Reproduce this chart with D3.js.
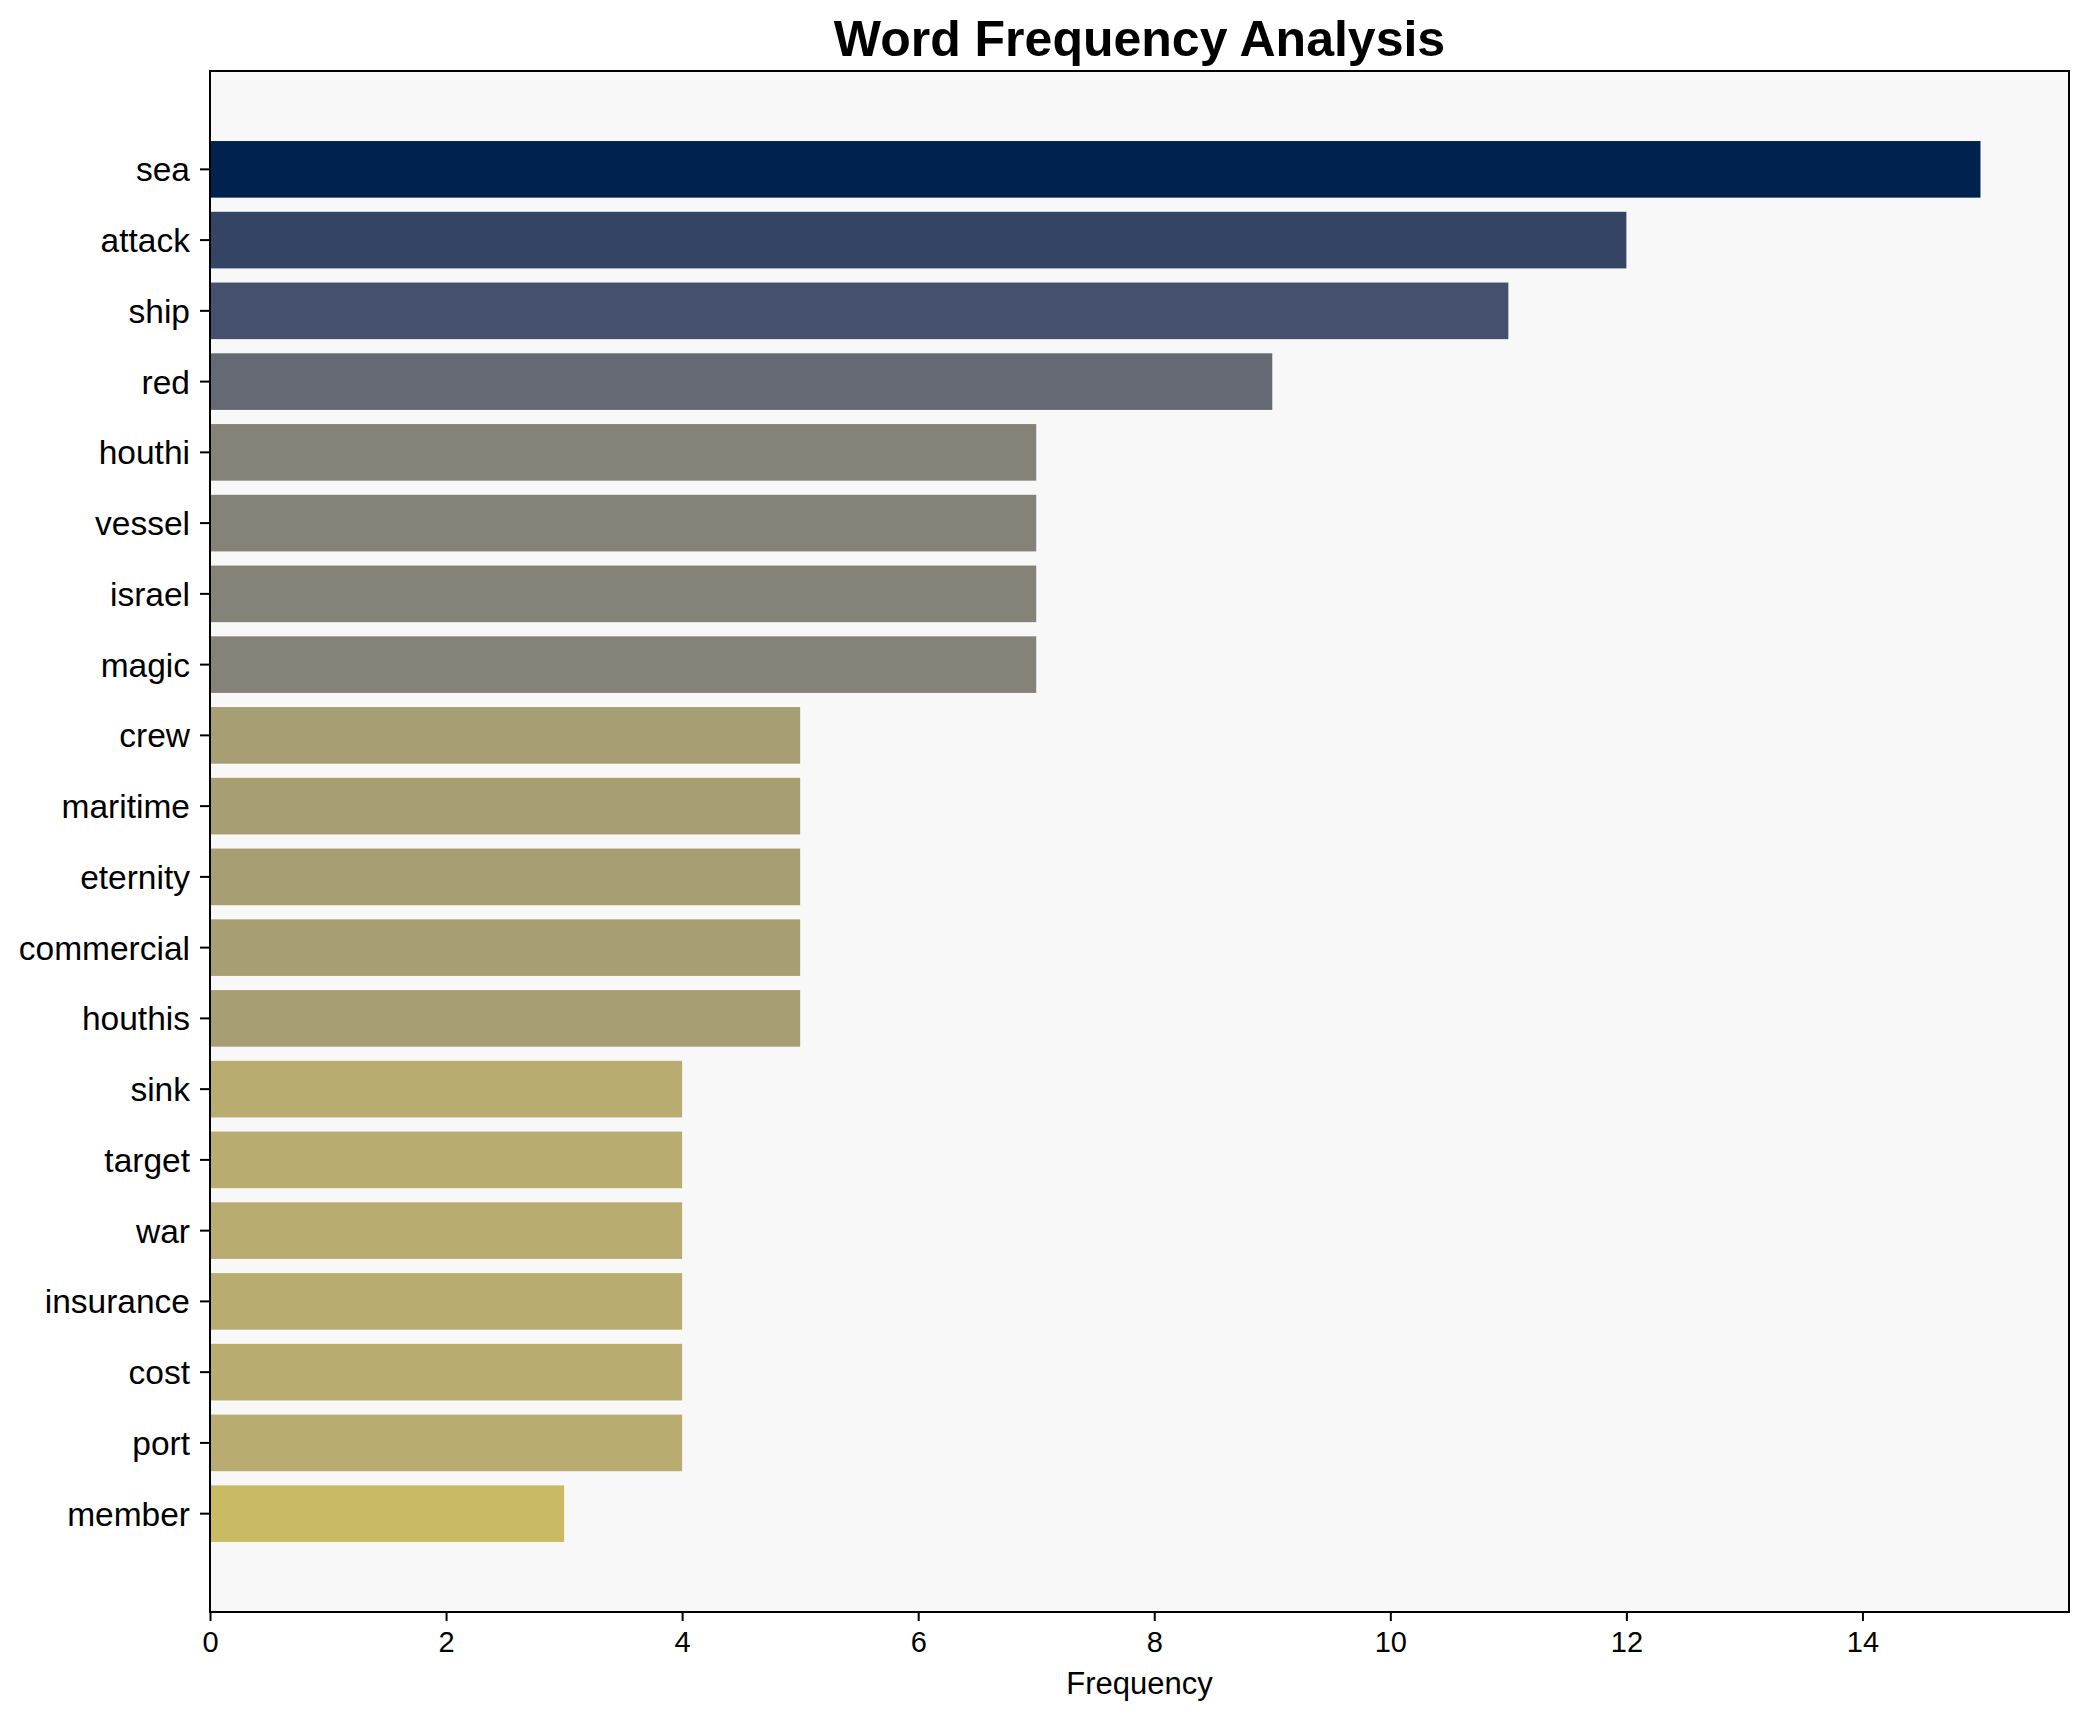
<!DOCTYPE html>
<html lang="en">
<head>
    <meta charset="UTF-8">
    <title>Word Frequency Analysis</title>
    <style>
        body {
            margin: 0;
            overflow: hidden;
            background: #fff;
        }
        text {
            font-family: "Liberation Sans", Arial, sans-serif;
            fill: #000;
        }
    </style>
</head>
<body>
    <script src="https://d3js.org/d3.v7.min.js"></script>
    <script>
        // word counts, most frequent first
        const words = ['sea', 'attack', 'ship', 'red', 'houthi', 'vessel', 'israel', 'magic',
            'crew', 'maritime', 'eternity', 'commercial', 'houthis', 'sink', 'target', 'war',
            'insurance', 'cost', 'port', 'member'];
        const counts = [15, 12, 11, 9, 7, 7, 7, 7, 5, 5, 5, 5, 5, 4, 4, 4, 4, 4, 4, 3];
        const xTicks = [0, 2, 4, 6, 8, 10, 12, 14];

        const width = 2089;
        const height = 1722;
        const margin = { top: 71, right: 20, bottom: 110, left: 210 };

        const svg = d3.select('body').append('svg')
            .attr('width', width)
            .attr('height', height);

        const maxCount = d3.max(counts);

        const x = d3.scaleLinear()
            .domain([0, maxCount * 1.05])
            .range([margin.left, width - margin.right]);

        const y = d3.scaleBand()
            .domain(words)
            .range([margin.top, height - margin.bottom])
            .paddingInner(0.2)
            .paddingOuter(0.99);

        // matplotlib's cividis, reversed so the big counts are dark
        const cividis = d3.scaleLinear()
            .domain([0, 0.25, 0.5, 0.75, 1])
            .range(['#00224e', '#414d6b', '#7c7b78', '#bcaf6f', '#fee838']);
        const colour = v => cividis(1 - v / maxCount);

        // plot background
        svg.append('rect')
            .attr('x', margin.left)
            .attr('y', margin.top)
            .attr('width', width - margin.left - margin.right)
            .attr('height', height - margin.top - margin.bottom)
            .attr('fill', '#f8f8f8');

        svg.selectAll('.bar')
            .data(words)
            .enter().append('rect')
            .attr('class', 'bar')
            .attr('x', x(0))
            .attr('y', d => y(d))
            .attr('width', (d, i) => x(counts[i]) - x(0))
            .attr('height', y.bandwidth())
            .attr('fill', (d, i) => colour(counts[i]));

        // y axis
        const yAxis = svg.append('g')
            .attr('transform', `translate(${margin.left},0)`)
            .call(d3.axisLeft(y).tickSize(10).tickPadding(10));
        yAxis.select('.domain').remove();
        yAxis.selectAll('.tick line').attr('stroke', '#000').attr('stroke-width', 2);
        yAxis.selectAll('.tick text')
            .attr('dy', '0.36em')
            .style('font-size', '33.5px');

        // x axis
        const xAxis = svg.append('g')
            .attr('transform', `translate(0,${height - margin.bottom})`)
            .call(d3.axisBottom(x).tickValues(xTicks).tickSize(9).tickPadding(10));
        xAxis.select('.domain').remove();
        xAxis.selectAll('.tick line').attr('stroke', '#000').attr('stroke-width', 2);
        xAxis.selectAll('.tick text')
            .style('font-size', '29px');

        // frame around the plot
        svg.append('rect')
            .attr('x', margin.left)
            .attr('y', margin.top)
            .attr('width', width - margin.left - margin.right)
            .attr('height', height - margin.top - margin.bottom)
            .attr('fill', 'none')
            .attr('stroke', '#000')
            .attr('stroke-width', 2);

        svg.append('text')
            .attr('x', (margin.left + width - margin.right) / 2)
            .attr('y', 1694)
            .attr('text-anchor', 'middle')
            .style('font-size', '31px')
            .text('Frequency');

        svg.append('text')
            .attr('x', (margin.left + width - margin.right) / 2)
            .attr('y', 56)
            .attr('text-anchor', 'middle')
            .style('font-size', '50px')
            .style('font-weight', 'bold')
            .text('Word Frequency Analysis');
    </script>
</body>
</html>
